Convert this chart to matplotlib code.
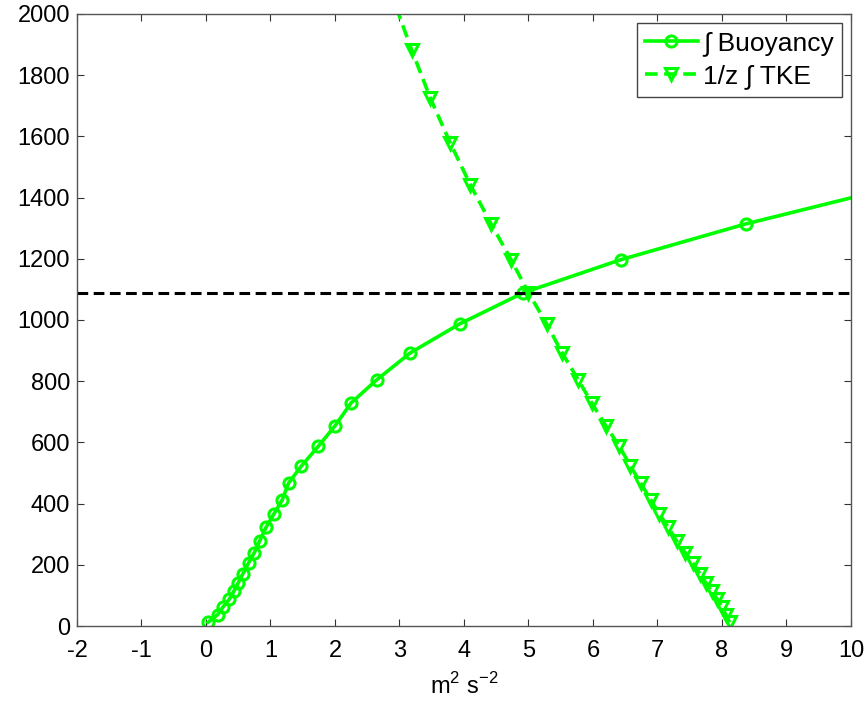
import numpy as np
import matplotlib
matplotlib.use("Agg")
import matplotlib.pyplot as plt

plt.rcParams['font.family'] = ['Liberation Sans', 'DejaVu Sans']
plt.rcParams['axes.unicode_minus'] = False
plt.rcParams['mathtext.fontset'] = 'custom'
plt.rcParams['mathtext.rm'] = 'Liberation Sans'

# heights (m) shared by both profiles
z = [12, 37, 61, 87, 113, 141, 170, 206, 240, 277, 322, 365, 411, 467, 523,
     587, 654, 729, 805, 893, 988, 1089, 1197, 1314, 1441, 1577, 1724, 1882, 2050]

# integrated buoyancy (m2 s-2), first 25 levels
buoy = [0.03, 0.18, 0.26, 0.36, 0.43, 0.50, 0.57, 0.66, 0.75, 0.83, 0.93, 1.05,
        1.18, 1.28, 1.48, 1.74, 2.0, 2.25, 2.65, 3.17, 3.94, 4.92, 6.43, 8.37, 10.8]

# 1/z integrated TKE (m2 s-2)
tke = [8.12, 8.06, 8.0, 7.93, 7.84, 7.75, 7.66, 7.55, 7.43, 7.3, 7.17, 7.03, 6.9,
       6.74, 6.58, 6.41, 6.2, 5.98, 5.77, 5.52, 5.28, 5.0, 4.73, 4.42, 4.1, 3.79,
       3.48, 3.19, 2.9]

zi = 1088  # level where the two curves meet

green = (0, 1, 0)

fig = plt.figure(figsize=(8.68, 7.06), dpi=100)
ax = fig.add_axes([0.0887, 0.1133, 0.8917, 0.8669])

ax.plot(buoy, z[:len(buoy)], '-o', color=green, lw=2.6, ms=8,
        mfc='none', mew=2.2, label=u'\u222b Buoyancy')
ax.plot(tke, z, '--v', color=green, lw=2.6, ms=8,
        mfc='none', mew=2.2, label=u'1/z \u222b TKE', dashes=(3.5, 1.8))
ax.axhline(zi, color='k', lw=2.2, ls='--', dashes=(3.5, 1.8))

ax.set_xlim(-2, 10)
ax.set_ylim(0, 2000)
ax.set_xticks(np.arange(-2, 11, 1))
ax.set_yticks(np.arange(0, 2001, 200))
ax.tick_params(direction='in', top=True, right=True, length=5, labelsize=17,
               color='#333333')
ax.tick_params(axis='x', pad=10)
ax.tick_params(axis='y', pad=5)
for s in ax.spines.values():
    s.set_color('#555555')
    s.set_linewidth(1.0)

ax.set_xlabel(r'm$^\mathregular{2}$ s$^\mathregular{-2}$', fontsize=17, labelpad=8)

leg = ax.legend(loc='upper right', fontsize=19, handlelength=2.0,
                fancybox=False, framealpha=1, borderpad=0.3, labelspacing=0.3,
                handletextpad=0.2, borderaxespad=0.35)
leg.get_frame().set_edgecolor('#444444')
leg.get_frame().set_linewidth(1.0)

fig.savefig('out.png', dpi=100)
